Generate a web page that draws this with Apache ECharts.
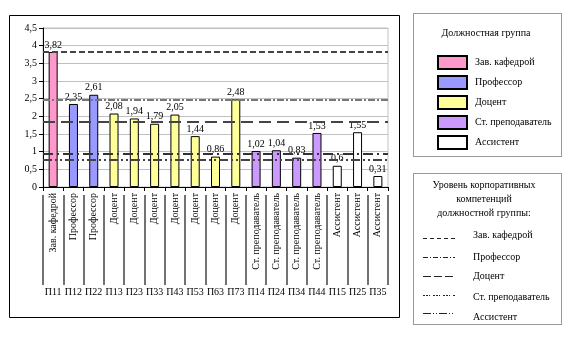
<!DOCTYPE html>
<html>
<head>
<meta charset="utf-8">
<script src="https://cdn.jsdelivr.net/npm/echarts@6/dist/echarts.min.js"></script>
<style>
html,body{margin:0;padding:0;background:#fff;}
#c{width:572px;height:341px;}
</style>
</head>
<body>
<div id="c"></div>
<script>
// ---- data ----
var categories = ['Зав. кафедрой','Профессор','Профессор','Доцент','Доцент','Доцент','Доцент','Доцент','Доцент','Доцент','Ст. преподаватель','Ст. преподаватель','Ст. преподаватель','Ст. преподаватель','Ассистент','Ассистент','Ассистент'];
var codes = ['П11','П12','П22','П13','П23','П33','П43','П53','П63','П73','П14','П24','П34','П44','П15','П25','П35'];
var values = [3.82,2.35,2.61,2.08,1.94,1.79,2.05,1.44,0.86,2.48,1.02,1.04,0.83,1.53,0.6,1.55,0.31];
var groups = ['Зав. кафедрой','Профессор','Доцент','Ст. преподаватель','Ассистент'];
var levels = [3.82,2.48,1.84,0.95,0.77];
var yTicks = [0,0.5,1,1.5,2,2.5,3,3.5,4,4.5];

// ---- styles ----
var groupColors = ['#FF99CC','#9999FF','#FFFF99','#CC99FF','#FFFFFF'];
var levelStyles = [
  {color:'#444', width:2, dash:[6,3]},
  {color:'#777', width:2, dash:[7,2,2,2]},
  {color:'#444', width:2, dash:[12,6]},
  {color:'#333', width:2, dash:[10,4,2,4]},
  {color:'#444', width:2, dash:[9,3,2,3,2,3]}
];
var legendLineDash = [[4,3],[5,2,1,2],[8,3],[2,1,2,1,1,3],[8,2,1,2,1,2]];
var FONT = 'Liberation Serif';

function fmt(v){ return String(v).replace('.', ','); }

var series = groups.map(function(g, gi){
  return {
    name: g,
    type: 'bar',
    stack: 'all',
    barWidth: 9,
    itemStyle: {color: groupColors[gi], borderColor: '#000', borderWidth: 1},
    label: {show: true, position: 'top', distance: 2, color: '#000', fontFamily: FONT, fontSize: 10,
            formatter: function(p){ return fmt(p.value); }},
    data: categories.map(function(c, i){ return c === g ? values[i] : '-'; })
  };
});
series.push({
  name: 'Уровень',
  type: 'line',
  data: [],
  silent: true,
  markLine: {
    silent: true,
    symbol: ['none','none'],
    label: {show: false},
    data: levels.map(function(v, i){
      return {yAxis: v, lineStyle: {color: levelStyles[i].color, width: levelStyles[i].width, type: levelStyles[i].dash}};
    })
  }
});

var graphics = [
  {type:'rect', shape:{x:9.5,y:15.5,width:390,height:302}, style:{fill:'none',stroke:'#000',lineWidth:1}, silent:true},
  {type:'rect', shape:{x:413.5,y:13.5,width:148,height:143}, style:{fill:'none',stroke:'#333',lineWidth:1,lineDash:[1,1]}, silent:true},
  {type:'rect', shape:{x:413.5,y:173.5,width:148,height:151}, style:{fill:'none',stroke:'#333',lineWidth:1,lineDash:[1,1]}, silent:true},
  {type:'text', x:486, y:33, style:{text:'Должностная группа', fontFamily:FONT, fontSize:10, fill:'#000', textAlign:'center', textVerticalAlign:'middle'}},
  {type:'text', x:484, y:185, style:{text:'Уровень корпоративных', fontFamily:FONT, fontSize:10, fill:'#000', textAlign:'center', textVerticalAlign:'middle'}},
  {type:'text', x:484, y:199, style:{text:'компетенций', fontFamily:FONT, fontSize:10, fill:'#000', textAlign:'center', textVerticalAlign:'middle'}},
  {type:'text', x:484, y:213, style:{text:'должностной группы:', fontFamily:FONT, fontSize:10, fill:'#000', textAlign:'center', textVerticalAlign:'middle'}}
];
var lineY = [238,257,276,295,313];
var textY = [235,257,276,297,317];
groups.forEach(function(g, i){
  graphics.push({type:'line', shape:{x1:423,y1:lineY[i]+0.5,x2:455,y2:lineY[i]+0.5}, style:{stroke:'#222',lineWidth:1,lineDash:legendLineDash[i]}, silent:true});
  graphics.push({type:'text', x:473, y:textY[i], style:{text:g, fontFamily:FONT, fontSize:10, fill:'#000', textVerticalAlign:'middle'}});
});

var chart = echarts.init(document.getElementById('c'), null, {renderer:'canvas'});
chart.setOption({
  animation: false,
  backgroundColor: '#fff',
  textStyle: {fontFamily: FONT},
  grid: {left: 43, top: 28, width: 345, height: 159, show: true, borderColor: '#c0c0c0', borderWidth: 1},
  legend: {
    data: groups,
    orient: 'vertical',
    left: 432, top: 50,
    icon: 'rect',
    itemWidth: 29, itemHeight: 13, itemGap: 5,
    selectedMode: false,
    textStyle: {fontFamily: FONT, fontSize: 10, color: '#000', padding: [0,0,0,3], lineHeight: 13}
  },
  xAxis: [
    {
      type: 'category', data: categories, position: 'bottom',
      axisLine: {lineStyle: {color: '#000', width: 1}},
      axisTick: {show: true, length: 4, interval: 0, lineStyle: {color: '#000'}},
      axisLabel: {interval: 0, rotate: 90, margin: 6, fontFamily: FONT, fontSize: 10, color: '#000'}
    },
    {
      type: 'category', data: codes, position: 'bottom', offset: 8,
      axisLine: {show: false},
      axisTick: {show: true, length: 90, interval: 0, lineStyle: {color: '#444', width: 1.5}},
      axisLabel: {interval: 0, margin: 92, fontFamily: FONT, fontSize: 10, color: '#000'}
    }
  ],
  yAxis: {
    type: 'value', min: yTicks[0], max: yTicks[yTicks.length-1], interval: 0.5,
    axisLine: {show: true, lineStyle: {color: '#000'}},
    axisTick: {show: true, length: 4, lineStyle: {color: '#000'}},
    axisLabel: {margin: 6, fontFamily: FONT, fontSize: 10, color: '#000', formatter: function(v){ return fmt(v); }},
    splitLine: {lineStyle: {color: '#c0c0c0', width: 1}}
  },
  graphic: graphics,
  series: series
});
</script>
</body>
</html>
